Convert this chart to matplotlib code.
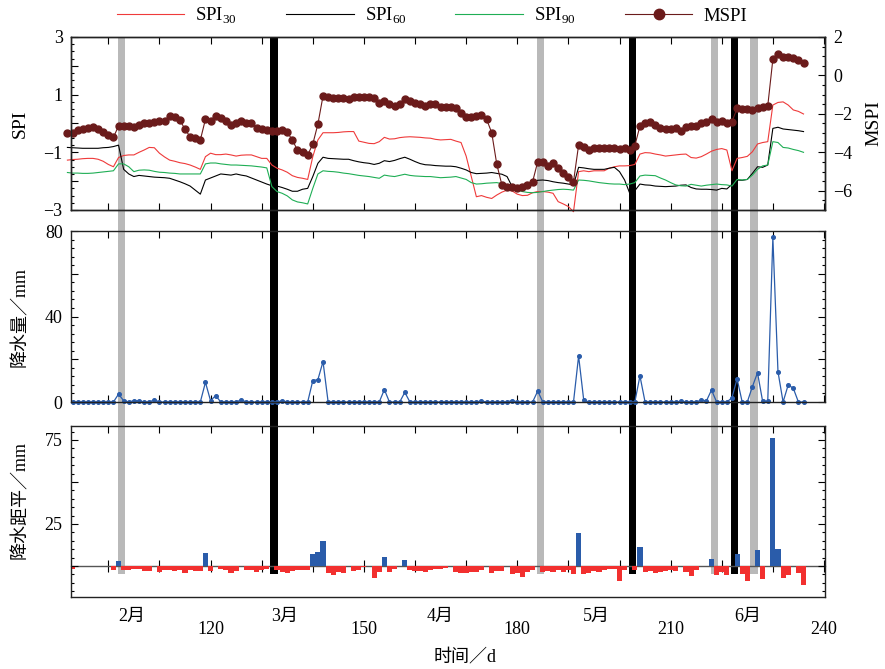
import numpy as np
import matplotlib.pyplot as plt
import matplotlib.transforms as mtransforms
from matplotlib.patches import Rectangle
from matplotlib.lines import Line2D
from matplotlib.ticker import MultipleLocator, FuncFormatter

plt.rcParams['font.family'] = ['Liberation Serif', 'Noto Sans CJK SC']
plt.rcParams['mathtext.fontset'] = 'custom'
plt.rcParams['mathtext.rm'] = 'Liberation Serif'
plt.rcParams['font.size'] = 13

# ---- data ----
spi_days = np.arange(92, 237)
spi30 = [-1.27, -1.25, -1.24, -1.22, -1.21, -1.21, -1.24, -1.31, -1.42, -1.50,
         -1.18, -1.11, -1.09, -1.09, -1.00, -0.92, -0.83, -0.84, -1.03, -1.16,
         -1.27, -1.31, -1.36, -1.39, -1.44, -1.51, -1.59, -1.15, -1.03, -1.08,
         -1.08, -1.06, -1.09, -1.13, -1.10, -1.09, -1.09, -1.15, -1.21, -1.21,
         -1.44, -1.55, -1.61, -1.69, -1.81, -1.87, -1.90, -1.94, -1.15, -0.57,
         -0.32, -0.32, -0.32, -0.31, -0.29, -0.28, -0.28, -0.61, -0.65, -0.69,
         -0.70, -0.63, -0.48, -0.54, -0.53, -0.49, -0.47, -0.46, -0.47, -0.48,
         -0.50, -0.51, -0.55, -0.57, -0.56, -0.55, -0.61, -0.66, -1.13, -1.84,
         -2.54, -2.50, -2.56, -2.60, -2.48, -2.38, -2.31, -2.34, -2.45, -2.50,
         -2.49, -2.40, -2.36, -2.36, -2.38, -2.42, -2.71, -2.79, -2.88, -3.06,
         -1.67, -1.64, -1.67, -1.64, -1.64, -1.64, -1.55, -1.50, -1.47, -1.47,
         -1.46, -1.42, -1.06, -1.01, -1.02, -1.06, -1.09, -1.13, -1.11, -1.09,
         -1.07, -1.06, -1.18, -1.20, -1.15, -1.06, -0.96, -0.90, -0.87, -0.92,
         -1.64, -1.21, -1.18, -1.14, -0.98, -0.71, -0.66, -0.63, 0.64, 0.73,
         0.75, 0.64, 0.47, 0.42, 0.33]
spi60 = [-0.83, -0.84, -0.85, -0.86, -0.86, -0.86, -0.86, -0.84, -0.83, -0.80,
         -0.75, -1.59, -1.75, -1.84, -1.80, -1.82, -1.84, -1.86, -1.87, -1.88,
         -1.90, -1.96, -2.02, -2.09, -2.17, -2.31, -2.45, -1.96, -1.89, -1.82,
         -1.75, -1.77, -1.79, -1.75, -1.79, -1.82, -1.89, -1.96, -2.03, -2.10,
         -2.16, -2.17, -2.22, -2.28, -2.35, -2.35, -2.28, -2.25, -1.84, -1.38,
         -1.17, -1.21, -1.22, -1.23, -1.24, -1.24, -1.29, -1.33, -1.36, -1.38,
         -1.42, -1.38, -1.29, -1.32, -1.28, -1.22, -1.17, -1.24, -1.32, -1.39,
         -1.43, -1.44, -1.46, -1.47, -1.48, -1.48, -1.50, -1.55, -1.61, -1.70,
         -1.74, -1.73, -1.72, -1.70, -1.73, -1.76, -1.84, -2.19, -2.18, -2.17,
         -2.10, -2.02, -1.97, -1.96, -1.98, -2.02, -2.05, -2.07, -2.10, -2.13,
         -1.52, -1.54, -1.57, -1.59, -1.59, -1.59, -1.55, -1.52, -1.67, -1.96,
         -2.42, -2.33, -2.10, -2.13, -2.14, -2.17, -2.18, -2.19, -2.18, -2.17,
         -2.14, -2.13, -2.22, -2.27, -2.28, -2.28, -2.29, -2.31, -2.25, -2.27,
         -2.11, -1.96, -1.97, -1.94, -1.73, -1.50, -1.52, -1.44, -0.17, -0.13,
         -0.19, -0.21, -0.23, -0.25, -0.28]
spi90 = [-1.70, -1.72, -1.72, -1.73, -1.73, -1.72, -1.70, -1.68, -1.66, -1.64,
         -1.40, -1.40, -1.50, -1.67, -1.62, -1.61, -1.62, -1.66, -1.69, -1.70,
         -1.72, -1.73, -1.75, -1.75, -1.75, -1.75, -1.75, -1.40, -1.37, -1.37,
         -1.40, -1.42, -1.44, -1.44, -1.45, -1.46, -1.47, -1.49, -1.51, -1.54,
         -2.19, -2.36, -2.42, -2.51, -2.65, -2.72, -2.75, -2.79, -2.25, -1.75,
         -1.64, -1.66, -1.67, -1.69, -1.72, -1.74, -1.77, -1.80, -1.82, -1.84,
         -1.87, -1.90, -1.79, -1.82, -1.84, -1.80, -1.76, -1.80, -1.82, -1.83,
         -1.84, -1.84, -1.86, -1.88, -1.87, -1.86, -1.84, -1.89, -1.94, -2.05,
         -2.10, -2.09, -2.07, -2.06, -2.05, -2.09, -2.16, -2.26, -2.31, -2.36,
         -2.39, -2.40, -2.39, -2.36, -2.33, -2.31, -2.29, -2.28, -2.29, -2.31,
         -1.96, -1.97, -1.99, -2.02, -2.05, -2.07, -2.09, -2.10, -2.10, -2.12,
         -2.10, -2.05, -1.82, -1.79, -1.80, -1.81, -1.89, -1.96, -2.05, -2.13,
         -2.16, -2.17, -2.11, -2.14, -2.17, -2.14, -2.12, -2.10, -2.12, -2.13,
         -2.17, -1.94, -1.96, -1.94, -1.79, -1.59, -1.47, -1.44, -0.63, -0.66,
         -0.83, -0.85, -0.90, -0.94, -1.00]
mspi = [-2.98, -2.98, -2.84, -2.79, -2.72, -2.67, -2.79, -2.93, -3.10, -3.22,
        -2.63, -2.61, -2.61, -2.67, -2.58, -2.49, -2.46, -2.41, -2.35, -2.35,
        -2.11, -2.18, -2.32, -2.80, -3.19, -3.27, -3.36, -2.28, -2.35, -2.11,
        -2.20, -2.37, -2.58, -2.46, -2.37, -2.46, -2.46, -2.75, -2.79, -2.84,
        -2.88, -2.88, -2.86, -2.95, -3.36, -3.88, -3.97, -4.14, -3.57, -2.53,
        -1.07, -1.14, -1.19, -1.19, -1.19, -1.24, -1.14, -1.14, -1.14, -1.14,
        -1.19, -1.45, -1.31, -1.49, -1.59, -1.49, -1.24, -1.31, -1.42, -1.49,
        -1.59, -1.49, -1.49, -1.66, -1.62, -1.62, -1.71, -1.94, -2.14, -2.14,
        -2.11, -2.06, -2.28, -2.98, -4.63, -5.70, -5.79, -5.82, -5.87, -5.79,
        -5.70, -5.53, -4.49, -4.49, -4.71, -4.54, -4.83, -5.09, -5.27, -5.53,
        -3.62, -3.71, -3.88, -3.79, -3.75, -3.75, -3.75, -3.76, -3.84, -3.79,
        -3.88, -3.65, -2.63, -2.49, -2.41, -2.58, -2.75, -2.80, -2.80, -2.75,
        -2.87, -2.67, -2.61, -2.61, -2.49, -2.41, -2.28, -2.41, -2.35, -2.46,
        -2.41, -1.71, -1.76, -1.76, -1.80, -1.71, -1.66, -1.59, 0.84, 1.12,
        0.98, 0.98, 0.89, 0.80, 0.66]

rain_days = np.arange(93, 237)
rain = [0, 0, 0, 0, 0, 0, 0, 0, 0, 3.7,
        0.6, 0, 0.6, 0.6, 0, 0, 1.0, 0, 0, 0,
        0, 0, 0, 0, 0, 0, 9.2, 0.6, 3.0, 0,
        0, 0, 0, 1.0, 0, 0, 0, 0, 0, 0,
        0, 0.6, 0, 0, 0, 0, 0, 10.0, 10.5, 18.9,
        0, 0, 0, 0, 0, 0, 0, 0, 0, 0,
        0, 5.8, 0, 0, 0, 4.5, 0, 0, 0, 0,
        0, 0, 0, 0, 0, 0, 0, 0, 0, 0,
        0.5, 0, 0, 0, 0, 0, 0.7, 0, 0, 0,
        0, 5.1, 0, 0, 0, 0, 0, 0, 0, 21.5,
        0.9, 0, 0, 0, 0, 0, 0, 0, 0, 0,
        0, 12.2, 0, 0, 0, 0, 0, 0, 0, 0.3,
        0, 0, 0, 0.9, 0.5, 5.6, 0, 0, 0, 2.0,
        10.9, 0, 0, 7.2, 13.7, 0.3, 0.3, 77.0, 14.2, 0,
        8.0, 6.4, 0, 0]
anom = [-1.6, 0, 0, 0, 0, 0, 0, 0, -2.2, 2.8,
        -2.2, -2.2, -2.0, -2.0, -3.0, -3.0, 0, -3.6, -2.2, -2.2,
        -3.2, -2.2, -4.0, -2.6, -3.0, -3.0, 7.9, -3.0, 0, -1.6,
        -2.6, -4.0, -3.0, 0, -2.2, -2.6, -3.6, -2.6, -1.6, 0,
        -2.6, -3.6, -4.2, -3.0, -2.6, -2.2, -2.6, 6.9, 8.5, 14.8,
        -4.2, -5.1, -3.6, -4.5, 0, -3.2, -2.6, -0.4, 0, -6.9,
        -3.6, 5.1, -3.6, -2.0, 0, 3.8, -2.6, -3.2, -3.2, -3.6,
        -2.6, -2.0, -1.6, -1.4, 0, -3.6, -4.0, -4.5, -3.6, -3.6,
        -2.4, 0, -4.5, -3.3, -3.0, 0, -5.0, -4.5, -6.5, -3.6,
        -2.2, 0, -3.6, -3.0, -3.6, -2.6, -3.6, -2.6, -4.9, 19.6,
        -4.9, -4.5, -3.0, -3.6, -2.6, -2.0, -2.0, -8.9, -2.2, 0,
        -2.2, 11.3, -3.6, -3.0, -4.5, -3.6, -3.0, -2.6, -3.0, 0,
        -3.6, -6.1, -2.2, 0, 0, 4.2, -5.5, -3.6, -5.5, 0,
        6.9, -4.9, -9.1, 0, 9.7, -7.5, 0, 76.3, 10.0, -6.9,
        -5.5, 0, -4.5, -11.5]

gray_days = [102.5, 184.5, 218.6, 226.3]
black_days = [132.4, 202.5, 222.5]
month_labels = ['2月', '3月', '4月', '5月', '6月']
month_days = [104.5, 134.5, 165, 195.5, 225]
day_ticks = [120, 150, 180, 210, 240]

# ---- layout ----
fig = plt.figure(figsize=(8.85, 6.69), dpi=100)
L, W = 71 / 885, 754 / 885
ax1 = fig.add_axes([L, 0.6861, W, 0.2586])
ax2 = fig.add_axes([L, 0.3991, W, 0.2556])
ax3 = fig.add_axes([L, 0.1076, W, 0.2556])
ax1b = ax1.twinx()

red, green, maroon = '#ef3a3a', '#1fae55', '#6b1b1b'
blue, bred = '#2a5caa', '#f2302f'

ax1.plot(spi_days, spi30, color=red, lw=0.8, clip_on=False)
ax1.plot(spi_days, spi60, color='black', lw=0.8, clip_on=False)
ax1.plot(spi_days, spi90, color=green, lw=0.8, clip_on=False)
ax1b.plot(spi_days, mspi, color=maroon, lw=0.8, marker='o', ms=5, clip_on=False)

ax2.plot(rain_days, rain, color=blue, lw=0.9, marker='o', ms=2.6, clip_on=False)

anom = np.array(anom)
ax3.bar(rain_days, anom, width=1.0, color=np.where(anom >= 0, blue, bred), lw=0)

# limits / ticks
for ax in (ax1, ax2, ax3):
    ax.set_facecolor('none')
    ax.set_xlim(92.7, 240.2)
    ax.xaxis.set_major_locator(MultipleLocator(10))
    for s in ax.spines.values():
        s.set_color('#222222')
        s.set_linewidth(1.0)
for s in ax1b.spines.values():
    s.set_color('#222222')
    s.set_linewidth(1.0)

def odd_fmt(v, p):
    return ('%d' % round(v)).replace('-', '\u2212') if round(v) % 2 else ''

ax1.set_ylim(-3, 3)
ax1.yaxis.set_major_locator(MultipleLocator(1))
ax1.yaxis.set_minor_locator(MultipleLocator(0.25))
ax1.yaxis.set_major_formatter(FuncFormatter(odd_fmt))
ax1b.set_ylim(-7, 2)
ax1b.yaxis.set_major_locator(MultipleLocator(2))
ax1b.yaxis.set_minor_locator(MultipleLocator(0.5))

ax2.set_ylim(0, 80)
ax2.yaxis.set_major_locator(MultipleLocator(20))
ax2.yaxis.set_minor_locator(MultipleLocator(4))
ax2.yaxis.set_major_formatter(FuncFormatter(lambda v, p: '%d' % v if v % 40 == 0 else ''))

y_lo, y_hi = -18.5, 83.3
ax3.set_ylim(y_lo, y_hi)
ax3.yaxis.set_major_locator(MultipleLocator(25))
ax3.yaxis.set_minor_locator(MultipleLocator(5))
ax3.yaxis.set_major_formatter(FuncFormatter(lambda v, p: '%d' % v if v in (25, 75) else ''))
ax3.xaxis.set_major_formatter(FuncFormatter(lambda v, p: '%d' % v if v in day_ticks else ''))

kw = dict(direction='in', width=0.8, labelsize=13)
ax1.tick_params(axis='y', which='major', length=5, right=False, pad=6, **kw)
ax1.tick_params(axis='y', which='minor', length=2.5, right=False, direction='in', width=0.8)
ax1b.tick_params(axis='y', which='major', length=5, pad=6, **kw)
ax1b.tick_params(axis='y', which='minor', length=2.5, direction='in', width=0.8)
for ax in (ax2, ax3):
    ax.tick_params(axis='y', which='major', length=5, right=True, pad=6, **kw)
    ax.tick_params(axis='y', which='minor', length=2.5, right=True, direction='in', width=0.8)
for ax in (ax1, ax2):
    ax.tick_params(axis='x', length=5, top=True, labelbottom=False, **kw)
ax3.tick_params(axis='x', length=5, top=True, bottom=False, pad=17, **kw)

# zero line of the anomaly panel carries its own ticks
zfrac = -y_lo / (y_hi - y_lo)
zax = ax3.secondary_xaxis(zfrac)
zax.xaxis.set_major_locator(MultipleLocator(10))
zax.tick_params(direction='inout', length=8, width=0.8, labelbottom=False, labeltop=False)
zax.spines['bottom'].set_color('#555555')
zax.spines['bottom'].set_linewidth(1.0)

for m, d in zip(month_labels, month_days):
    ax3.text(d, -0.115, m, transform=ax3.get_xaxis_transform(), ha='center', va='center', fontsize=13)

ax1.set_ylabel('SPI', fontsize=14)
ax1.yaxis.set_label_coords(-0.056, 0.5)
ax1b.set_ylabel('MSPI', fontsize=14)
ax1b.yaxis.set_label_coords(1.053, 0.5)
ax2.set_ylabel('降水量／mm', fontsize=13)
ax2.yaxis.set_label_coords(-0.056, 0.5)
ax3.set_ylabel('降水距平／mm', fontsize=13)
ax3.yaxis.set_label_coords(-0.056, 0.567)
fig.text(465 / 885, 1 - 657 / 669, '时间／d', ha='center', va='center', fontsize=13)

# event bands across all three panels, behind the data
top = 0.6861 + 0.2586
pos3 = ax3.get_position()
yb = pos3.y0 + (-5 - y_lo) / (y_hi - y_lo) * pos3.height
tr = mtransforms.blended_transform_factory(ax3.transData, fig.transFigure)
for d in gray_days:
    fig.add_artist(Rectangle((d - 0.7, yb), 1.4, top - yb, transform=tr,
                             facecolor='#b9b9b9', lw=0, zorder=-1))
for d in black_days:
    fig.add_artist(Rectangle((d - 0.7, yb), 1.4, top - yb, transform=tr,
                             facecolor='black', lw=0, zorder=-1))

handles = [Line2D([], [], color=red, lw=0.8),
           Line2D([], [], color='black', lw=0.8),
           Line2D([], [], color=green, lw=0.8),
           Line2D([], [], color=maroon, lw=0.8, marker='o', ms=7.5)]
labels = ['SPI$_{30}$', 'SPI$_{60}$', 'SPI$_{90}$', 'MSPI']
fig.legend(handles, labels, loc='center', bbox_to_anchor=(432 / 885, 1 - 16 / 669),
           ncol=4, frameon=False, handlelength=3.6, columnspacing=2.6, fontsize=13.5,
           handletextpad=0.6)

fig.savefig('out.png', dpi=100)
